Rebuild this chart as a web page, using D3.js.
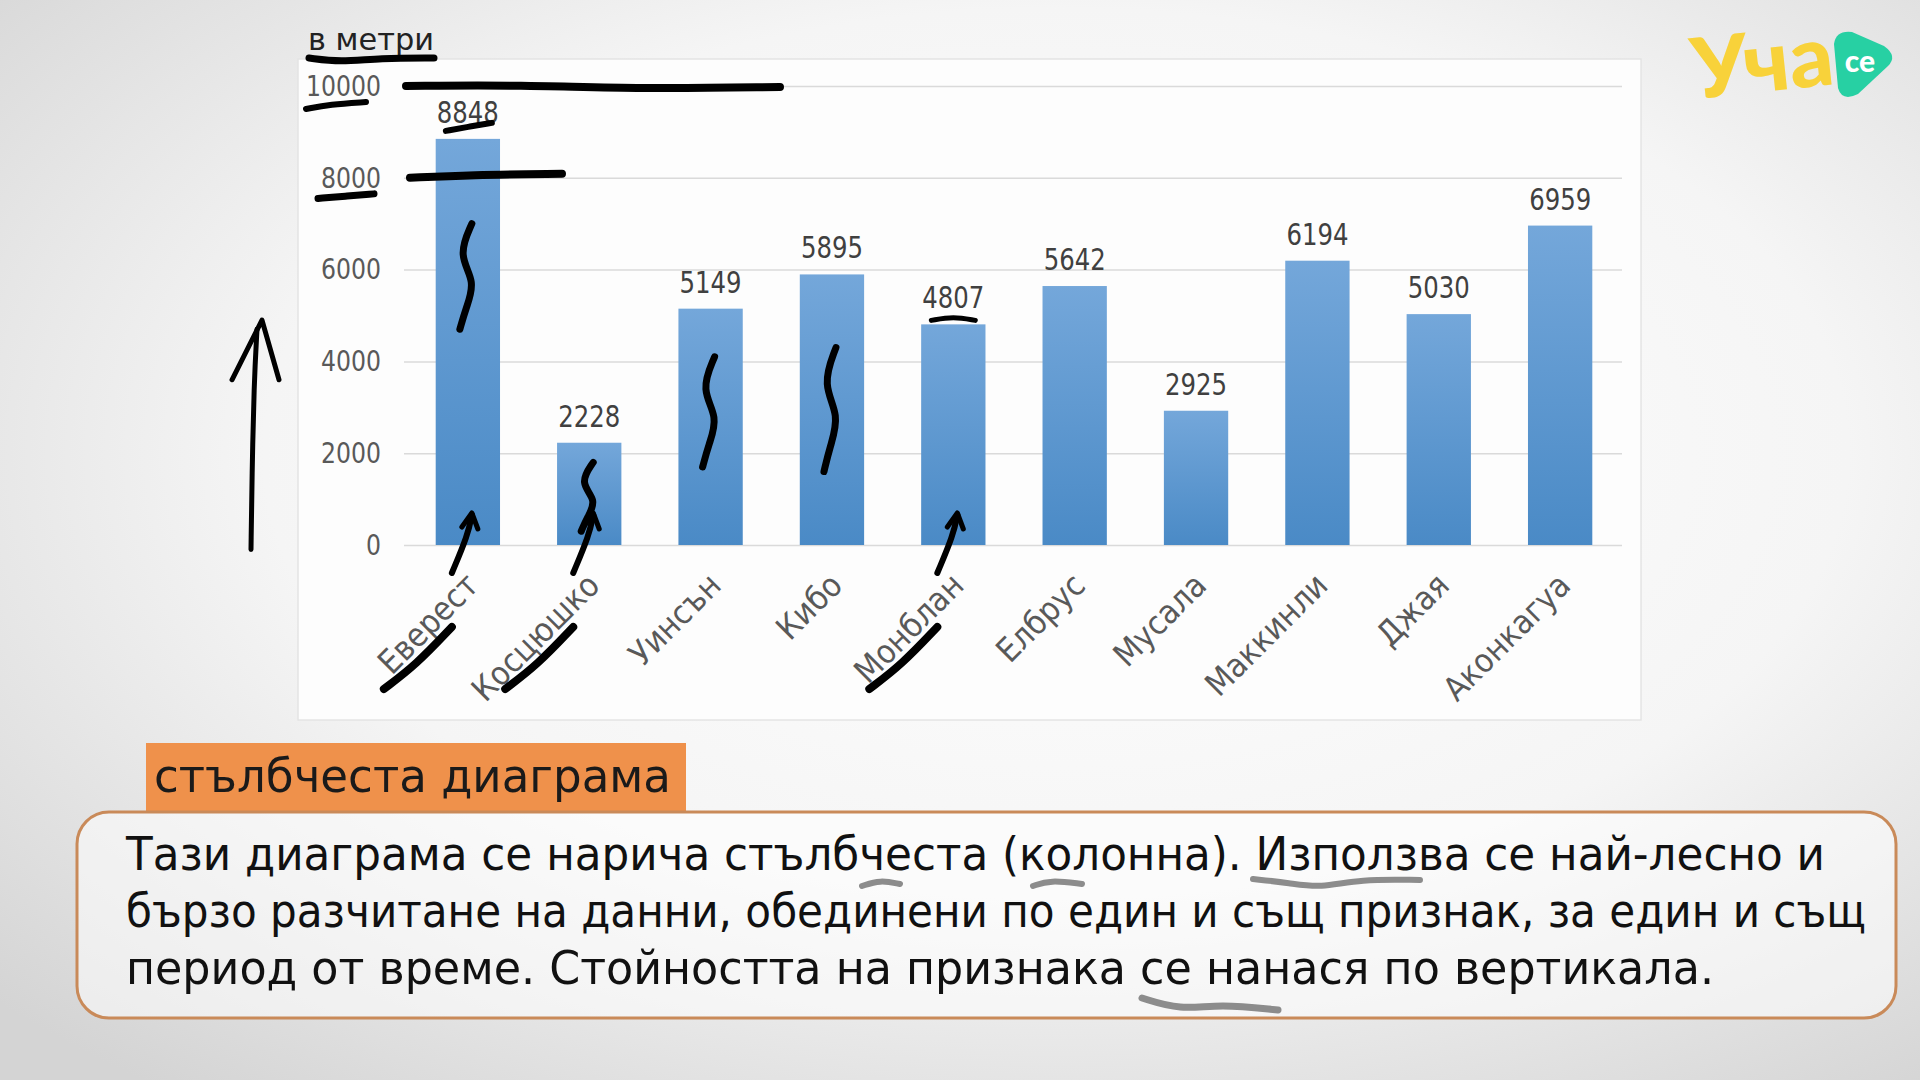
<!DOCTYPE html>
<html>
<head>
<meta charset="utf-8">
<script src="https://cdn.jsdelivr.net/npm/d3@7"></script>
<style>
  body { margin: 0; overflow: hidden; }
  text { font-family: "DejaVu Sans Condensed", "DejaVu Sans", sans-serif; }
</style>
</head>
<body>
<script>
// peaks and their heights, in metres
var peaks = ["Еверест", "Косцюшко", "Уинсън", "Кибо", "Монблан", "Елбрус", "Мусала", "Маккинли", "Джая", "Аконкагуа"];
var heights = [8848, 2228, 5149, 5895, 4807, 5642, 2925, 6194, 5030, 6959];
var yTicks = [0, 2000, 4000, 6000, 8000, 10000];
var unitLabel = "в метри";
var badge = "стълбчеста диаграма";
var noteLines = [
  "Тази диаграма се нарича стълбчеста (колонна). Използва се най-лесно и",
  "бързо разчитане на данни, обединени по един и същ признак, за един и същ",
  "период от време. Стойността на признака се нанася по вертикала."
];

function init() {
  var W = 1920, H = 1080,
      grid = {left: 404, right: 1622},
      plot = {left: 409, right: 1619, top: 86, bottom: 545};

  var svg = d3.select("body").append("svg")
    .attr("width", W)
    .attr("height", H);

  var defs = svg.append("defs");
  var bg = defs.append("radialGradient").attr("id", "bg")
    .attr("cx", "55%").attr("cy", "42%").attr("r", "75%");
  bg.append("stop").attr("offset", "0%").attr("stop-color", "#ffffff");
  bg.append("stop").attr("offset", "55%").attr("stop-color", "#f5f5f5");
  bg.append("stop").attr("offset", "100%").attr("stop-color", "#d4d4d4");

  var barGrad = defs.append("linearGradient").attr("id", "bar")
    .attr("x1", 0).attr("y1", 0).attr("x2", 0).attr("y2", 1);
  barGrad.append("stop").attr("offset", "0%").attr("stop-color", "#74a7da");
  barGrad.append("stop").attr("offset", "100%").attr("stop-color", "#4a8ac6");

  svg.append("rect").attr("width", W).attr("height", H).attr("fill", "url(#bg)");

  // chart frame
  svg.append("rect")
    .attr("x", 298).attr("y", 59).attr("width", 1343).attr("height", 661)
    .attr("fill", "#fdfdfd").attr("stroke", "#e4e4e4").attr("stroke-width", 1.5);

  var x = d3.scaleBand().domain(peaks).range([plot.left, plot.right]).paddingInner(0.47).paddingOuter(0.22);
  var y = d3.scaleLinear().domain([0, 10000]).range([plot.bottom, plot.top]);

  var yAxis = svg.append("g")
    .attr("transform", "translate(" + grid.left + ",0)")
    .call(d3.axisLeft(y).tickValues(yTicks).tickFormat(d3.format("d"))
      .tickSize(-(grid.right - grid.left)).tickPadding(23));
  yAxis.select(".domain").remove();
  yAxis.selectAll(".tick line").attr("stroke", "#dadada").attr("stroke-width", 1.5);
  yAxis.selectAll(".tick text")
    .style("font-size", "29px").attr("fill", "#595959")
    .attr("textLength", function (d) { return String(d).length * 15; })
    .attr("lengthAdjust", "spacingAndGlyphs");

  svg.append("text")
    .attr("x", 308).attr("y", 50)
    .attr("textLength", 126).attr("lengthAdjust", "spacingAndGlyphs")
    .style("font-size", "31px").attr("fill", "#222")
    .text(unitLabel);

  svg.selectAll("rect.bar").data(heights).enter().append("rect")
    .attr("class", "bar")
    .attr("x", function (d, i) { return x(peaks[i]); })
    .attr("y", function (d) { return y(d); })
    .attr("width", x.bandwidth())
    .attr("height", function (d) { return y(0) - y(d); })
    .attr("fill", "url(#bar)");

  svg.selectAll("text.val").data(heights).enter().append("text")
    .attr("class", "val")
    .attr("x", function (d, i) { return x(peaks[i]) + x.bandwidth() / 2 - 31; })
    .attr("y", function (d) { return y(d) - 16; })
    .attr("textLength", 62).attr("lengthAdjust", "spacingAndGlyphs")
    .style("font-size", "30px").attr("fill", "#404040")
    .text(function (d) { return d; });

  svg.selectAll("text.cat").data(peaks).enter().append("text")
    .attr("class", "cat")
    .attr("transform", function (d) {
      return "translate(" + (x(d) + x.bandwidth() / 2 - 4) + "," + (plot.bottom + 26) + ") rotate(-45)";
    })
    .attr("dy", "0.7em")
    .attr("text-anchor", "end")
    .style("font-size", "33px").attr("fill", "#595959")
    .text(function (d) { return d; });

  // hand-drawn marker strokes
  var ink = svg.append("g").attr("fill", "none").attr("stroke", "#000")
    .attr("stroke-linecap", "round").attr("stroke-linejoin", "round");
  var curve = d3.line().curve(d3.curveBasis);
  var cx = function (i) { return x(peaks[i]) + x.bandwidth() / 2; };

  // big arrow at the left
  ink.append("path").attr("stroke-width", 5)
    .attr("d", curve([[251, y(-100)], [252, y(1500)], [254, y(3500)], [257, y(4700)]]));
  ink.append("path").attr("stroke-width", 5)
    .attr("d", "M232," + y(3600) + " L262," + y(4900) + " L279," + y(3600));

  // underlines and strike lines near the axis
  ink.append("path").attr("stroke-width", 7)
    .attr("d", curve([[309, 58], [340, 62], [380, 58], [434, 58]]));
  ink.append("path").attr("stroke-width", 6)
    .attr("d", curve([[306, y(9500)], [330, y(9600)], [366, y(9650)]]));
  ink.append("path").attr("stroke-width", 8)
    .attr("d", curve([[406, y(10000)], [520, y(10000) - 1], [640, y(10000) + 3], [780, y(10000) + 1]]));
  ink.append("path").attr("stroke-width", 8)
    .attr("d", curve([[410, y(8000)], [470, y(8000) - 3], [562, y(8000) - 4]]));
  ink.append("path").attr("stroke-width", 7)
    .attr("d", curve([[318, y(7550)], [345, y(7600)], [374, y(7650)]]));
  ink.append("path").attr("stroke-width", 6)
    .attr("d", curve([[cx(0) - 22, y(8848) - 8], [cx(0), y(8848) - 12], [cx(0) + 24, y(8848) - 16]]));
  ink.append("path").attr("stroke-width", 5)
    .attr("d", curve([[cx(4) - 22, y(4807) - 4], [cx(4), y(4807) - 8], [cx(4) + 22, y(4807) - 4]]));

  // S-shaped strokes inside bars
  [[0, 7000, 4700], [1, 1800, 300], [2, 4100, 1700], [3, 4300, 1600]].forEach(function (s) {
    var c = cx(s[0]), t = y(s[1]), b = y(s[2]), h = b - t;
    ink.append("path").attr("stroke-width", 7)
      .attr("d", curve([[c + 4, t], [c - 10, t + h * 0.3], [c + 8, t + h * 0.55], [c - 2, t + h * 0.8], [c - 8, b]]));
  });

  // arrows from labels to bars and label underlines
  [0, 1, 4].forEach(function (i) {
    var c = cx(i);
    ink.append("path").attr("stroke-width", 6)
      .attr("d", curve([[c - 16, plot.bottom + 28], [c, plot.bottom - 10], [c + 4, plot.bottom - 30]]));
    ink.append("path").attr("stroke-width", 5)
      .attr("d", "M" + (c - 6) + "," + (plot.bottom - 18) + " L" + (c + 4) + "," + (plot.bottom - 32) + " L" + (c + 10) + "," + (plot.bottom - 16));
    ink.append("path").attr("stroke-width", 8)
      .attr("d", curve([[c - 84, plot.bottom + 144], [c - 52, plot.bottom + 120], [c - 16, plot.bottom + 82]]));
  });

  // orange badge
  svg.append("rect")
    .attr("x", 146).attr("y", 743).attr("width", 540).attr("height", 68)
    .attr("fill", "#ef914b");
  svg.append("text")
    .attr("x", 154).attr("y", 792)
    .attr("textLength", 517).attr("lengthAdjust", "spacingAndGlyphs")
    .style("font-size", "46px").attr("fill", "#1a1a1a")
    .text(badge);

  // note box
  svg.append("rect")
    .attr("x", 77).attr("y", 812).attr("width", 1819).attr("height", 206).attr("rx", 32)
    .attr("fill", "#ffffff").attr("fill-opacity", 0.55)
    .attr("stroke", "#c98a59").attr("stroke-width", 3);

  var lineWidths = [1699, 1740, 1588];
  svg.selectAll("text.note").data(noteLines).enter().append("text")
    .attr("class", "note")
    .attr("x", 126)
    .attr("y", function (d, i) { return 870 + i * 57; })
    .attr("textLength", function (d, i) { return lineWidths[i]; })
    .attr("lengthAdjust", "spacingAndGlyphs")
    .style("font-size", "47px").attr("fill", "#111")
    .text(function (d) { return d; });

  // marker strokes on the note text
  ink.append("path").attr("stroke-width", 6)
    .attr("d", curve([[1253, 879], [1290, 883], [1320, 888], [1360, 879], [1420, 880]]));
  ink.append("path").attr("stroke-width", 6)
    .attr("d", curve([[862, 886], [880, 880], [900, 884]]));
  ink.append("path").attr("stroke-width", 6)
    .attr("d", curve([[1033, 886], [1050, 880], [1082, 884]]));
  ink.append("path").attr("stroke-width", 7)
    .attr("d", curve([[1142, 998], [1180, 1010], [1220, 1004], [1278, 1010]]));

  // logo
  var logo = svg.append("g");
  logo.append("text")
    .attr("x", 1692).attr("y", 92)
    .attr("transform", "rotate(-6,1760,70)")
    .attr("textLength", 142).attr("lengthAdjust", "spacingAndGlyphs")
    .style("font-family", "Lato").style("font-weight", 900).style("font-size", "84px")
    .attr("fill", "#f8d23a")
    .text("Уча");
  logo.append("path")
    .attr("d", "M1834,44 Q1836,30 1852,32 L1884,46 Q1898,56 1888,66 L1858,94 Q1842,102 1838,88 Z")
    .attr("fill", "#27d0a3");
  logo.append("text")
    .attr("x", 1860).attr("y", 72).attr("text-anchor", "middle")
    .style("font-family", "Lato").style("font-weight", 900).style("font-size", "30px")
    .attr("fill", "#ffffff")
    .text("се");
}

init();
</script>
</body>
</html>
